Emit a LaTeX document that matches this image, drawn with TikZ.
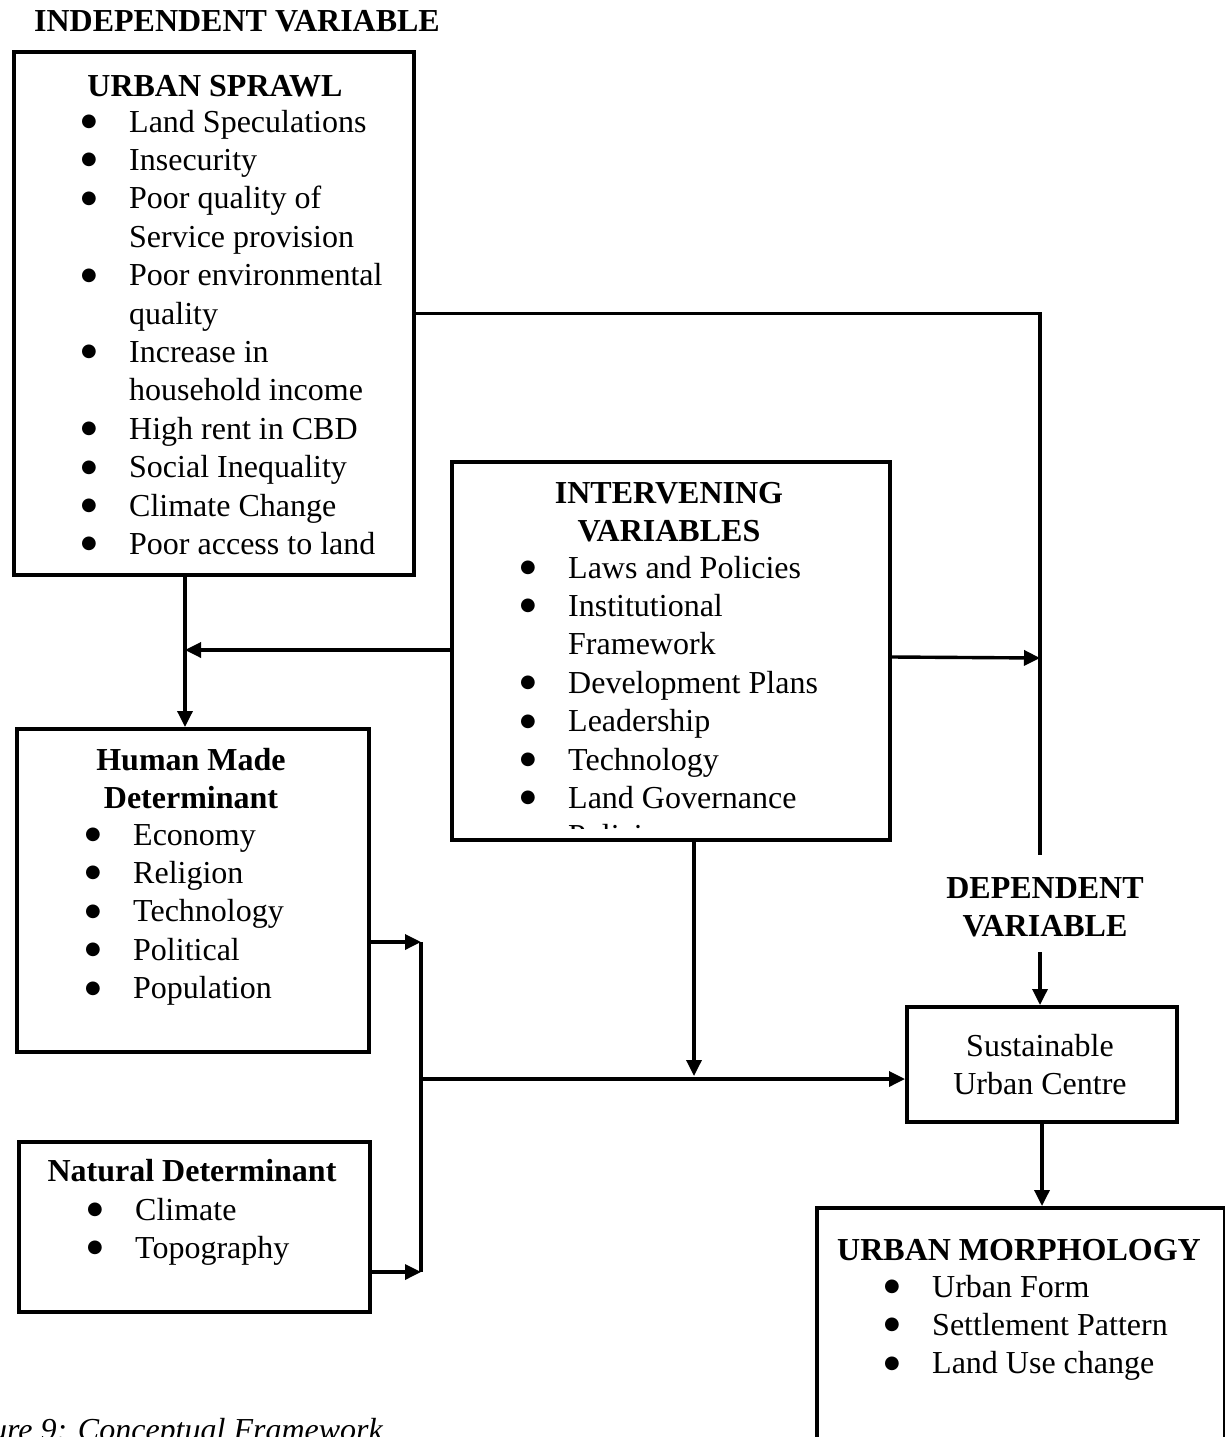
\documentclass[tikz,border=0pt]{standalone}
\usepackage{fontspec}
\setmainfont{Liberation Serif}
\newfontfamily\symf{DejaVu Sans}
\usetikzlibrary{arrows.meta}
\newcommand{\bl}{\makebox[47pt][l]{\hspace*{-1pt}\raisebox{5.5pt}{\symf\fontsize{18}{18}\selectfont ●}}}
\newcommand{\ind}{\hspace*{47pt}}
\begin{document}
\begin{tikzpicture}[x=1pt,y=-1pt,
  frame/.style={draw, line width=4pt, inner sep=0pt, anchor=north west},
  txt/.style={inner sep=0pt, font=\fontsize{32}{38.4}\selectfont},
  head/.style={txt, font=\fontsize{32}{38.4}\selectfont\bfseries, anchor=base},
  items/.style={txt, anchor=base west},
  wire/.style={line width=3.4pt},
  arw/.style={wire, -{Triangle[length=16pt,width=15pt]}}]
\fill[white] (0,0) rectangle (1225,1437);
\useasboundingbox (0,0) rectangle (1225,1437);

% labels
\node[head] (indep) at (237,32) {INDEPENDENT VARIABLE};
\node[head] (dep) at (1045,898) {\begin{tabular}[t]{@{}c@{}}DEPENDENT\\VARIABLE\end{tabular}};

% urban sprawl
\node[frame, minimum width=400pt, minimum height=523pt] (sprawl) at (12,50) {};
\node[head] (sprawlT) at (215,96) {URBAN SPRAWL};
\node[items] (sprawlL) at (82,132) {\begin{tabular}[t]{@{}l@{}}\bl Land Speculations\\ \bl Insecurity\\ \bl Poor quality of\\ \ind Service provision\\ \bl Poor environmental\\ \ind quality\\ \bl Increase in\\ \ind household income\\ \bl High rent in CBD\\ \bl Social Inequality\\ \bl Climate Change\\ \bl Poor access to land\end{tabular}};

% intervening
\node[frame, minimum width=438pt, minimum height=378pt] (interv) at (450,460) {};
\node[head] (intervT) at (669,503) {\begin{tabular}[t]{@{}c@{}}INTERVENING\\VARIABLES\end{tabular}};
\begin{scope}
\clip (453,463) rectangle (885,828);
\node[items] (intervL) at (521,578) {\begin{tabular}[t]{@{}l@{}}\bl Laws and Policies\\ \bl Institutional\\ \ind Framework\\ \bl Development Plans\\ \bl Leadership\\ \bl Technology\\ \bl Land Governance\\ \bl Policies\end{tabular}};
\end{scope}

% human made
\node[frame, minimum width=352pt, minimum height=323pt] (human) at (15,727) {};
\node[head] (humanT) at (191,770) {\begin{tabular}[t]{@{}c@{}}Human Made\\Determinant\end{tabular}};
\node[items] (humanL) at (86,845) {\begin{tabular}[t]{@{}l@{}}\bl Economy\\ \bl Religion\\ \bl Technology\\ \bl Political\\ \bl Population\end{tabular}};

% natural
\node[frame, minimum width=351pt, minimum height=170pt] (natural) at (17,1140) {};
\node[head] (naturalT) at (192,1181) {Natural Determinant};
\node[items] (naturalL) at (88,1220) {\begin{tabular}[t]{@{}l@{}}\bl Climate\\ \bl Topography\end{tabular}};

% sustainable
\node[frame, minimum width=270pt, minimum height=115pt] (sust) at (905,1005) {};
\node[txt, anchor=base] (sustT) at (1040,1056) {\begin{tabular}[t]{@{}c@{}}Sustainable\\Urban Centre\end{tabular}};

% morphology
\node[frame, minimum width=408pt, minimum height=239pt] (morph) at (815,1206) {};
\node[head] (morphT) at (1019,1260) {URBAN MORPHOLOGY};
\node[items] (morphL) at (885,1297) {\begin{tabular}[t]{@{}l@{}}\bl Urban Form\\ \bl Settlement Pattern\\ \bl Land Use change\end{tabular}};

% caption
\node[txt, font=\fontsize{32}{38.4}\selectfont\itshape, anchor=base east] (cap) at (383,1440) {Figure 9: Conceptual Framework};

% junctions
\coordinate (dtop) at (1040,855);
\coordinate (dbot) at (1040,952);
\coordinate (rj) at (1040,658);
\coordinate (lj) at (185,650);
\coordinate (bt) at (421,942);
\coordinate (bb) at (421,1272);
\coordinate (bm) at (421,1079);
\coordinate (iv) at (694,1076);

% connectors
\draw[wire] (sprawl.east) -| (dtop);
\draw[arw] (dbot) -- (sust.north -| dbot);
\draw[arw] ([yshift=-6pt]interv.east) -- (rj);
\draw[arw] (interv.west |- lj) -- (lj);
\draw[arw] (sprawl.south -| lj) -- (human.north -| lj);
\draw[wire] (bt) -- (bb);
\draw[arw] (human.east |- bt) -- (bt);
\draw[arw] (natural.east |- bb) -- (bb);
\draw[arw] (bm) -- (sust.west |- bm);
\draw[arw] (interv.south -| iv) -- (iv);
\draw[arw] (sust.south) -- (sust.south |- morph.north);
\end{tikzpicture}
\end{document}
